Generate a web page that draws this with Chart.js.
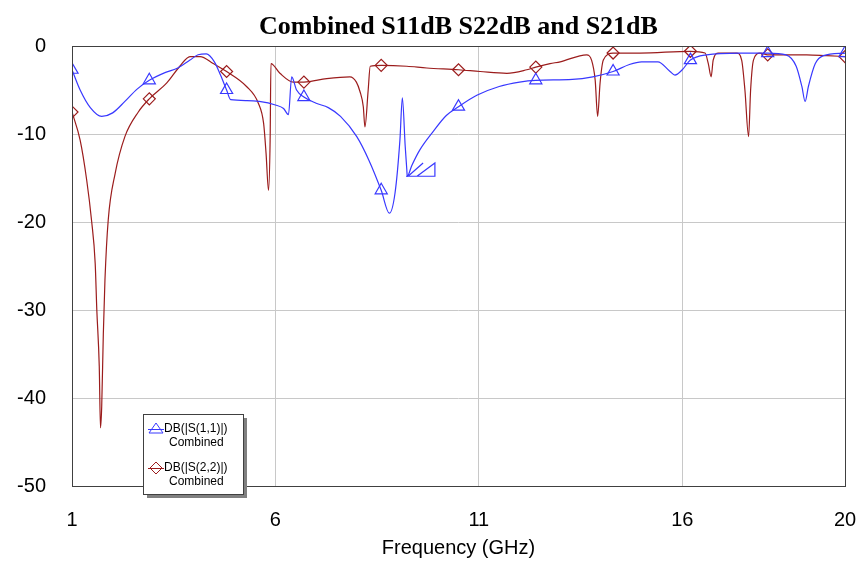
<!DOCTYPE html>
<html>
<head>
<meta charset="utf-8">
<title>Combined S11dB S22dB and S21dB</title>
<script src="https://cdn.jsdelivr.net/npm/chart.js@4/dist/chart.umd.min.js"></script>
<style>
  html, body { margin: 0; padding: 0; background: #fff; }
  #wrap { width: 867px; height: 571px; position: relative; }
</style>
</head>
<body>
<div id="wrap"><canvas id="chart"></canvas></div>
<script>
// S-parameter sweeps, 1..20 GHz
const s11Freq = [1.0, 1.2, 1.45, 1.73, 2.0, 2.3, 2.6, 2.9, 3.3, 3.6, 3.9, 4.1, 4.3, 4.5, 4.65, 4.8, 4.9,
  5.3, 5.6, 6.0, 6.2, 6.32, 6.4, 6.52, 6.7, 7.0, 7.3, 7.6, 8.0, 8.3, 8.6, 8.8, 8.94, 9.06, 9.12, 9.19,
  9.23, 9.24, 9.35, 9.55, 9.88, 10.2, 10.5, 10.95, 11.5, 12.0, 12.4, 13.3, 13.8, 14.3, 14.7, 15.0, 15.4,
  15.7, 15.82, 16.0, 16.2, 16.6, 17.4, 18.1, 18.55, 18.8, 18.94, 19.02, 19.1, 19.27, 19.47, 20.0];
const s11Db = [-2.7, -5.0, -7.0, -8.0, -7.6, -6.3, -4.9, -3.9, -3.0, -2.5, -1.6, -1.0, -0.9, -1.8, -3.3, -5.0, -6.1,
  -6.2, -6.3, -6.7, -7.1, -7.8, -3.5, -5.0, -5.8, -6.5, -7.0, -8.0, -10.3, -13.0, -16.4, -19.0, -16.7, -10.7, -5.9, -11.4,
  -14.1, -14.8, -13.6, -11.8, -9.7, -7.9, -6.9, -5.6, -4.6, -4.1, -3.9, -3.8, -3.5, -2.9, -2.1, -1.8, -1.8,
  -2.9, -3.3, -2.7, -1.6, -1.0, -0.8, -0.8, -1.0, -2.3, -4.6, -6.3, -4.6, -2.0, -1.1, -0.8];

const s22Freq = [1.0, 1.2, 1.36, 1.48, 1.57, 1.61, 1.67, 1.70, 1.73, 1.77, 1.81, 1.89, 2.06, 2.3, 2.63, 2.9,
  3.33, 3.65, 3.9, 4.15, 4.47, 4.8, 5.29, 5.58, 5.71, 5.77, 5.83, 5.87, 5.89, 6.11, 6.44, 6.7, 7.26, 7.83,
  7.99, 8.08, 8.16, 8.2, 8.28, 8.33, 8.6, 9.23, 9.72, 10.5, 11.03, 11.69, 12.18, 12.4, 12.75, 13.0, 13.65,
  13.77, 13.86, 13.92, 13.98, 14.06, 14.3, 14.96, 16.2, 16.56, 16.64, 16.71, 16.76, 16.89, 17.34, 17.46,
  17.54, 17.63, 17.68, 17.75, 17.91, 18.1, 19.06, 19.55, 20.0];
const s22Db = [-7.5, -10.7, -15.2, -19.8, -24.7, -30.0, -36.4, -43.4, -41.0, -32.7, -26.6, -19.8, -14.5, -10.3, -7.5, -6.0,
  -4.2, -2.3, -1.2, -1.2, -2.0, -2.9, -4.6, -6.5, -8.8, -12.2, -16.4, -10.7, -2.0, -3.1, -4.1, -4.1, -3.7, -3.5,
  -4.1, -5.2, -6.9, -9.2, -5.0, -2.3, -2.2, -2.3, -2.5, -2.7, -2.9, -3.1, -2.7, -2.4, -2.0, -1.8, -1.0,
  -1.6, -3.9, -8.0, -4.2, -1.6, -0.8, -0.8, -0.6, -0.8, -2.0, -3.5, -1.6, -0.8, -0.8, -1.6,
  -5.0, -10.3, -5.0, -1.6, -0.8, -1.0, -1.0, -1.1, -1.2];

// stray marker outline left by the simulator near 9.2-9.9 GHz
const glitchFreq = [9.21, 9.92, 9.92, 9.48, null, 9.26, 9.63];
const glitchDb = [-14.8, -14.8, -13.3, -14.8, null, -14.8, -13.3];

const markerFreqs = [1.0, 2.9, 4.8, 6.7, 8.6, 10.5, 12.4, 14.3, 16.2, 18.1, 20.0];
const xTicks = [1, 6, 11, 16, 20];
const yTicks = [0, -10, -20, -30, -40, -50];

const titleText = 'Combined S11dB S22dB and S21dB';

const legendRows = [
  { name: 'DB(|S(1,1)|)', sub: 'Combined', color: '#3838ff', style: 'triangle' },
  { name: 'DB(|S(2,2)|)', sub: 'Combined', color: '#9b1c1c', style: 'diamond' },
];

const BLUE = '#3838ff';
const RED = '#9b1c1c';
const SANS = '"Liberation Sans", Arial, sans-serif';

const toPoints = (xs, ys) => xs.map((x, i) => (x === null ? { x: NaN, y: null } : { x, y: ys[i] }));
const markerRadius = (r) => (ctx) => (ctx.raw && markerFreqs.includes(ctx.raw.x) ? r : 0);

const whiteBg = {
  id: 'whiteBg',
  beforeDraw(chart) {
    const c = chart.ctx;
    c.save();
    c.fillStyle = '#fff';
    c.fillRect(0, 0, chart.width, chart.height);
    c.restore();
  }
};

// title centred over the plot, frame round the plot, boxed legend lower left
const frameAndLegend = {
  id: 'frameAndLegend',
  afterDraw(chart) {
    const c = chart.ctx;
    const a = chart.chartArea;
    c.save();
    c.fillStyle = '#000';
    c.font = 'bold 26px "Liberation Serif", "Times New Roman", serif';
    c.textAlign = 'center';
    c.textBaseline = 'alphabetic';
    c.fillText(titleText, (a.left + a.right) / 2, 34);
    c.textAlign = 'left';

    c.strokeStyle = '#404040';
    c.lineWidth = 1;
    c.strokeRect(Math.round(a.left) + 0.5, Math.round(a.top) + 0.5,
      Math.round(a.right - a.left), Math.round(a.bottom - a.top));

    const bx = 143, by = 414, bw = 100, bh = 80;
    c.fillStyle = '#808080';
    c.fillRect(bx + 4, by + 4, bw, bh);
    c.fillStyle = '#fff';
    c.fillRect(bx, by, bw, bh);
    c.strokeStyle = '#404040';
    c.strokeRect(bx + 0.5, by + 0.5, bw, bh);

    c.font = '12px ' + SANS;
    c.textBaseline = 'middle';
    legendRows.forEach((row, i) => {
      const y = by + 15 + i * 39;
      c.strokeStyle = row.color;
      c.lineWidth = 1;
      c.beginPath();
      c.moveTo(bx + 5, y + 0.5);
      c.lineTo(bx + 21, y + 0.5);
      c.stroke();
      const cx = bx + 13;
      c.beginPath();
      if (row.style === 'triangle') {
        c.moveTo(cx, y - 6);
        c.lineTo(cx + 7, y + 4);
        c.lineTo(cx - 7, y + 4);
      } else {
        c.moveTo(cx, y - 6);
        c.lineTo(cx + 6, y);
        c.lineTo(cx, y + 6);
        c.lineTo(cx - 6, y);
      }
      c.closePath();
      c.stroke();
      c.fillStyle = '#000';
      c.fillText(row.name, bx + 21, y);
      c.fillText(row.sub, bx + 26, y + 14);
    });
    c.restore();
  }
};

new Chart(document.getElementById('chart'), {
  type: 'line',
  data: {
    datasets: [
      {
        label: 'DB(|S(1,1)|) Combined',
        data: toPoints(s11Freq, s11Db),
        borderColor: BLUE,
        borderWidth: 1.2,
        cubicInterpolationMode: 'monotone',
        pointStyle: 'triangle',
        pointRadius: markerRadius(7),
        pointBorderColor: BLUE,
        pointBackgroundColor: 'rgba(0,0,0,0)',
        pointBorderWidth: 1.2,
      },
      {
        label: 'DB(|S(2,2)|) Combined',
        data: toPoints(s22Freq, s22Db),
        borderColor: RED,
        borderWidth: 1.2,
        cubicInterpolationMode: 'monotone',
        pointStyle: 'rectRot',
        pointRadius: markerRadius(6),
        pointBorderColor: RED,
        pointBackgroundColor: 'rgba(0,0,0,0)',
        pointBorderWidth: 1.2,
      },
      {
        label: 'glitch',
        data: toPoints(glitchFreq, glitchDb),
        borderColor: BLUE,
        borderWidth: 1.2,
        tension: 0,
        spanGaps: false,
        pointRadius: 0,
      }
    ]
  },
  options: {
    responsive: true,
    maintainAspectRatio: false,
    animation: false,
    events: [],
    layout: { padding: { left: 0, right: 22, top: 46, bottom: 0 } },
    scales: {
      x: {
        type: 'linear',
        min: 1,
        max: 20,
        afterBuildTicks: (scale) => { scale.ticks = xTicks.map(v => ({ value: v })); },
        afterFit: (scale) => {
          scale.height = 85;
          // end labels fit inside the outer padding already
          scale.paddingLeft = 0;
          scale.paddingRight = 0;
        },
        grid: { color: '#c8c8c8', lineWidth: 1, drawTicks: false },
        border: { display: false },
        ticks: {
          color: '#000',
          padding: 22,
          maxRotation: 0,
          font: { family: SANS, size: 20 },
        },
        title: {
          display: true,
          text: 'Frequency (GHz)',
          color: '#000',
          padding: { top: 0, bottom: 11 },
          font: { family: SANS, size: 20 },
        }
      },
      y: {
        min: -50,
        max: 0,
        afterBuildTicks: (scale) => { scale.ticks = yTicks.map(v => ({ value: v })); },
        afterFit: (scale) => { scale.width = 72; },
        grid: { color: '#c8c8c8', lineWidth: 1, drawTicks: false },
        border: { display: false },
        ticks: {
          color: '#000',
          padding: 26,
          font: { family: SANS, size: 20 },
        }
      }
    },
    plugins: {
      legend: { display: false },
      tooltip: { enabled: false },
      title: { display: false }
    }
  },
  plugins: [whiteBg, frameAndLegend]
});
</script>
</body>
</html>
